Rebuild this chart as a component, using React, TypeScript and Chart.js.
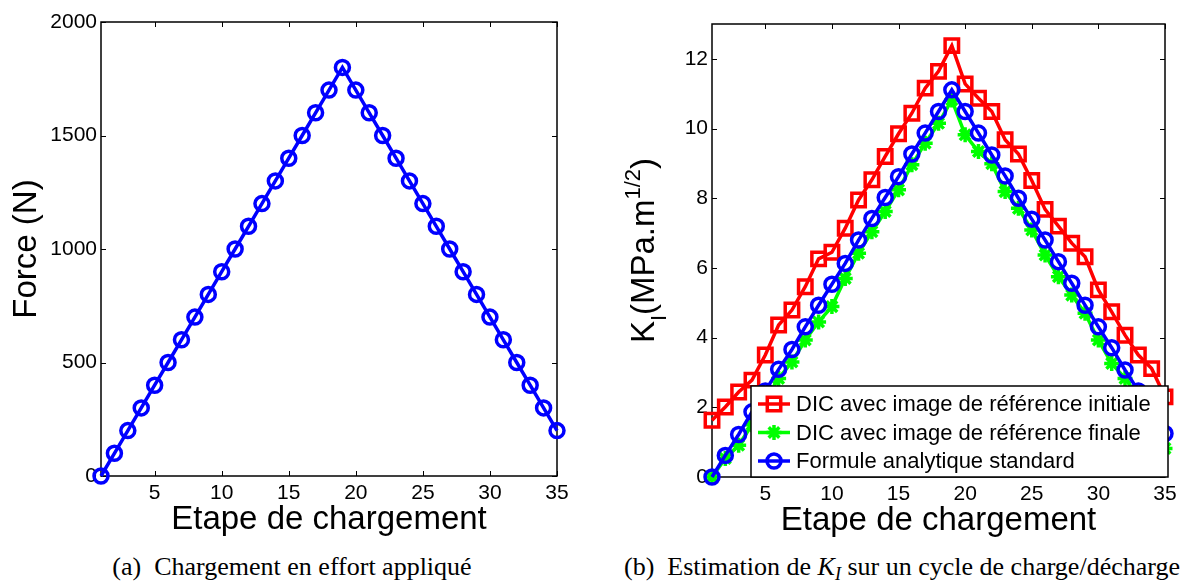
import React, { useEffect, useRef } from "react";
import { Chart, registerables } from "chart.js";

Chart.register(...registerables);

// ---------- data ----------
const steps = [1, 2, 3, 4, 5, 6, 7, 8, 9, 10, 11, 12, 13, 14, 15, 16, 17, 18, 19, 20, 21, 22, 23, 24, 25, 26, 27, 28, 29, 30, 31, 32, 33, 34, 35];
const force = [0, 100, 200, 300, 400, 500, 600, 700, 800, 900, 1000, 1100, 1200, 1300, 1400, 1500, 1600, 1700, 1800, 1700, 1600, 1500, 1400, 1300, 1200, 1100, 1000, 900, 800, 700, 600, 500, 400, 300, 200];
const kDicInitial = [1.63, 2.01, 2.44, 2.78, 3.5, 4.36, 4.79, 5.46, 6.26, 6.45, 7.14, 7.95, 8.53, 9.2, 9.85, 10.44, 11.16, 11.64, 12.38, 11.28, 10.87, 10.49, 9.68, 9.27, 8.51, 7.68, 7.2, 6.71, 6.32, 5.37, 4.74, 4.07, 3.5, 3.11, 2.3];
const kDicFinal = [0, 0.53, 0.91, 1.5, 2.2, 2.83, 3.3, 3.93, 4.45, 4.89, 5.7, 6.42, 7.04, 7.62, 8.24, 8.96, 9.58, 10.15, 10.82, 9.82, 9.34, 8.99, 8.19, 7.71, 7.09, 6.37, 5.75, 5.22, 4.7, 3.93, 3.26, 2.83, 2.3, 1.5, 0.82];
const kAnalytic = [0, 0.62, 1.22, 1.87, 2.47, 3.09, 3.66, 4.31, 4.93, 5.53, 6.13, 6.8, 7.42, 8.02, 8.62, 9.27, 9.87, 10.49, 11.11, 10.49, 9.87, 9.24, 8.64, 8.0, 7.4, 6.8, 6.18, 5.56, 4.93, 4.31, 3.71, 3.07, 2.47, 1.85, 1.25];

const stepTicks = [5, 10, 15, 20, 25, 30, 35];
const forceTicks = [0, 500, 1000, 1500, 2000];
const kTicks = [0, 2, 4, 6, 8, 10, 12];

const seriesNames = [
  "DIC avec image de référence initiale",
  "DIC avec image de référence finale",
  "Formule analytique standard",
];
const xTitle = "Etape de chargement";
const forceTitle = "Force (N)";
const captionA = "Chargement en effort appliqué";

// ---------- styles ----------
const SANS = '"Liberation Sans", Arial, Helvetica, sans-serif';
const SERIF = '"Liberation Serif", "Times New Roman", serif';
const TICK_FONT = 21;
const TITLE_FONT = 33;
const LEGEND_FONT = 22;
const RED = "#ff0000";
const GREEN = "#00ff00";
const BLUE = "#0000ff";
const LW = 3.5;

type Style = "rect" | "circle" | "star";
const MARKER_R: Record<Style, number> = { rect: 9.5, circle: 7, star: 7.5 };

function drawMarker(ctx: CanvasRenderingContext2D, style: Style, x: number, y: number, color: string) {
  const r = MARKER_R[style];
  ctx.save();
  ctx.strokeStyle = color;
  ctx.lineWidth = LW;
  ctx.beginPath();
  if (style === "rect") {
    const s = r * Math.SQRT1_2;
    ctx.rect(x - s, y - s, 2 * s, 2 * s);
  } else if (style === "circle") {
    ctx.arc(x, y, r, 0, Math.PI * 2);
  } else {
    for (let k = 0; k < 4; k++) {
      const a = (k * Math.PI) / 4;
      const dx = Math.cos(a) * r;
      const dy = Math.sin(a) * r;
      ctx.moveTo(x - dx, y - dy);
      ctx.lineTo(x + dx, y + dy);
    }
  }
  ctx.stroke();
  ctx.restore();
}

function framePlugin(xt: number[], yt: number[]) {
  return {
    id: "frame",
    beforeDatasetsDraw(chart: any) {
      const { ctx, chartArea: a, scales } = chart;
      ctx.save();
      ctx.strokeStyle = "#000";
      ctx.lineWidth = 1;
      const tl = 5;
      ctx.beginPath();
      for (const v of xt) {
        const px = Math.round(scales.x.getPixelForValue(v)) + 0.5;
        ctx.moveTo(px, a.bottom);
        ctx.lineTo(px, a.bottom - tl);
        ctx.moveTo(px, a.top);
        ctx.lineTo(px, a.top + tl);
      }
      for (const v of yt) {
        const py = Math.round(scales.y.getPixelForValue(v)) + 0.5;
        ctx.moveTo(a.left, py);
        ctx.lineTo(a.left + tl, py);
        ctx.moveTo(a.right, py);
        ctx.lineTo(a.right - tl, py);
      }
      ctx.stroke();
      ctx.lineWidth = 1.5;
      ctx.strokeRect(a.left, a.top, a.right - a.left, a.bottom - a.top);
      ctx.restore();
    },
  };
}

function xTitlePlugin(baseline: number) {
  return {
    id: "xtitle",
    afterDraw(chart: any) {
      const { ctx, chartArea: a } = chart;
      ctx.save();
      ctx.fillStyle = "#000";
      ctx.font = `${TITLE_FONT}px ${SANS}`;
      ctx.textAlign = "center";
      ctx.textBaseline = "alphabetic";
      ctx.fillText(xTitle, (a.left + a.right) / 2, baseline);
      ctx.restore();
    },
  };
}

const forceTitlePlugin = {
  id: "ytitleForce",
  afterDraw(chart: any) {
    const { ctx, chartArea: a } = chart;
    ctx.save();
    ctx.fillStyle = "#000";
    ctx.font = `${TITLE_FONT}px ${SANS}`;
    ctx.translate(36, (a.top + a.bottom) / 2);
    ctx.rotate(-Math.PI / 2);
    ctx.textAlign = "center";
    ctx.textBaseline = "alphabetic";
    ctx.fillText(forceTitle, 0, 0);
    ctx.restore();
  },
};

// K_I (MPa.m^{1/2}) rotated label with sub/superscript
const kTitlePlugin = {
  id: "ytitleK",
  afterDraw(chart: any) {
    const { ctx, chartArea: a } = chart;
    const big = `${TITLE_FONT}px ${SANS}`;
    const small = `22px ${SANS}`;
    const parts: { t: string; f: string; dy: number }[] = [
      { t: "K", f: big, dy: 0 },
      { t: "I", f: small, dy: 12 },
      { t: "(MPa.m", f: big, dy: 0 },
      { t: "1/2", f: small, dy: -14 },
      { t: ")", f: big, dy: 0 },
    ];
    ctx.save();
    let total = 0;
    for (const p of parts) {
      ctx.font = p.f;
      total += ctx.measureText(p.t).width;
    }
    const cy = (a.top + a.bottom) / 2;
    ctx.translate(61, cy + total / 2);
    ctx.rotate(-Math.PI / 2);
    ctx.fillStyle = "#000";
    ctx.textAlign = "left";
    ctx.textBaseline = "alphabetic";
    let x = 0;
    for (const p of parts) {
      ctx.font = p.f;
      ctx.fillText(p.t, x, p.dy);
      x += ctx.measureText(p.t).width;
    }
    ctx.restore();
  },
};

const legendPlugin = {
  id: "matlabLegend",
  afterDraw(chart: any) {
    const { ctx } = chart;
    const left = 158;
    const top = 386;
    const right = 575;
    const bottom = 477;
    ctx.save();
    ctx.fillStyle = "#fff";
    ctx.fillRect(left, top, right - left, bottom - top);
    ctx.strokeStyle = "#000";
    ctx.lineWidth = 1.5;
    ctx.strokeRect(left, top, right - left, bottom - top);
    const rows = [404, 432.5, 461];
    const colors = [RED, GREEN, BLUE];
    const styles: Style[] = ["rect", "star", "circle"];
    for (let i = 0; i < 3; i++) {
      const y = rows[i];
      ctx.strokeStyle = colors[i];
      ctx.lineWidth = LW;
      ctx.beginPath();
      ctx.moveTo(165, y);
      ctx.lineTo(197, y);
      ctx.stroke();
      drawMarker(ctx, styles[i], 181, y, colors[i]);
      ctx.fillStyle = "#000";
      ctx.font = `${LEGEND_FONT}px ${SANS}`;
      ctx.textAlign = "left";
      ctx.textBaseline = "middle";
      ctx.fillText(seriesNames[i], 203, y + 1);
    }
    ctx.restore();
  },
};

function makeScales(
  xTicksArr: number[],
  yTicksArr: number[],
  yMin: number,
  yMax: number,
  yWidth: number,
  xHeight: number
) {
  const tickFont = { family: SANS, size: TICK_FONT };
  return {
    x: {
      type: "linear" as const,
      min: 1,
      max: 35,
      afterBuildTicks: (s: any) => {
        s.ticks = xTicksArr.map((v) => ({ value: v }));
      },
      afterFit: (s: any) => {
        s.height = xHeight;
      },
      grid: { display: false, drawTicks: false },
      border: { display: false },
      ticks: {
        font: tickFont,
        color: "#000",
        padding: 5,
        maxRotation: 0,
        autoSkip: false,
        callback: (v: any) => String(v),
      },
    },
    y: {
      type: "linear" as const,
      min: yMin,
      max: yMax,
      afterBuildTicks: (s: any) => {
        s.ticks = yTicksArr.map((v) => ({ value: v }));
      },
      afterFit: (s: any) => {
        s.width = yWidth;
      },
      grid: { display: false, drawTicks: false },
      border: { display: false },
      ticks: {
        font: tickFont,
        color: "#000",
        padding: 4,
        autoSkip: false,
        callback: (v: any) => String(v),
      },
    },
  };
}

function series(label: string, values: number[], color: string, style: Style, order: number) {
  return {
    label,
    data: steps.map((s, i) => ({ x: s, y: values[i] })),
    borderColor: color,
    borderWidth: LW,
    pointStyle: style,
    pointRadius: MARKER_R[style],
    pointHoverRadius: MARKER_R[style],
    pointBorderWidth: LW,
    pointBorderColor: color,
    pointBackgroundColor: "rgba(0,0,0,0)",
    tension: 0,
    fill: false,
    clip: false as any,
    order,
  };
}

export default function App() {
  const leftRef = useRef<HTMLCanvasElement>(null);
  const rightRef = useRef<HTMLCanvasElement>(null);

  useEffect(() => {
    const left = new Chart(leftRef.current as HTMLCanvasElement, {
      type: "line",
      data: { datasets: [series(forceTitle, force, BLUE, "circle", 0)] as any },
      options: {
        responsive: false,
        animation: false,
        devicePixelRatio: 1,
        layout: { padding: { left: 0, right: 36, top: 22, bottom: 0 } },
        plugins: { legend: { display: false }, tooltip: { enabled: false } },
        scales: makeScales(stepTicks, forceTicks, 0, 2000, 101, 64) as any,
      },
      plugins: [framePlugin(stepTicks, forceTicks), xTitlePlugin(529), forceTitlePlugin],
    });

    const right = new Chart(rightRef.current as HTMLCanvasElement, {
      type: "line",
      data: {
        datasets: [
          series(seriesNames[0], kDicInitial, RED, "rect", 2),
          series(seriesNames[1], kDicFinal, GREEN, "star", 1),
          series(seriesNames[2], kAnalytic, BLUE, "circle", 0),
        ] as any,
      },
      options: {
        responsive: false,
        animation: false,
        devicePixelRatio: 1,
        layout: { padding: { left: 0, right: 21, top: 24, bottom: 0 } },
        plugins: { legend: { display: false }, tooltip: { enabled: false } },
        scales: makeScales(stepTicks, kTicks, 0, 13, 119, 63) as any,
      },
      plugins: [framePlugin(stepTicks, kTicks), xTitlePlugin(530), kTitlePlugin, legendPlugin],
    });

    return () => {
      left.destroy();
      right.destroy();
    };
  }, []);

  const capStyle: React.CSSProperties = {
    position: "absolute",
    top: 552,
    fontFamily: SERIF,
    fontSize: 26,
    lineHeight: "30px",
    color: "#000",
    whiteSpace: "nowrap",
    textAlign: "center",
  };

  return (
    <div
      style={{
        position: "absolute",
        left: 0,
        top: 0,
        width: 1186,
        height: 586,
        background: "#fff",
        overflow: "hidden",
      }}
    >
      <canvas
        ref={leftRef}
        width={593}
        height={540}
        style={{ position: "absolute", left: 0, top: 0, width: 593, height: 540 }}
      />
      <canvas
        ref={rightRef}
        width={593}
        height={540}
        style={{ position: "absolute", left: 593, top: 0, width: 593, height: 540 }}
      />
      <div style={{ ...capStyle, left: 0, width: 584 }}>
        (a)&ensp;{captionA}
      </div>
      <div style={{ ...capStyle, left: 602, width: 600 }}>
        (b)&ensp;Estimation de <i>K</i>
        <sub style={{ fontSize: "0.7em", verticalAlign: "-0.25em", lineHeight: 0 }}>
          <i>I</i>
        </sub>{" "}
        sur un cycle de charge/décharge
      </div>
    </div>
  );
}
